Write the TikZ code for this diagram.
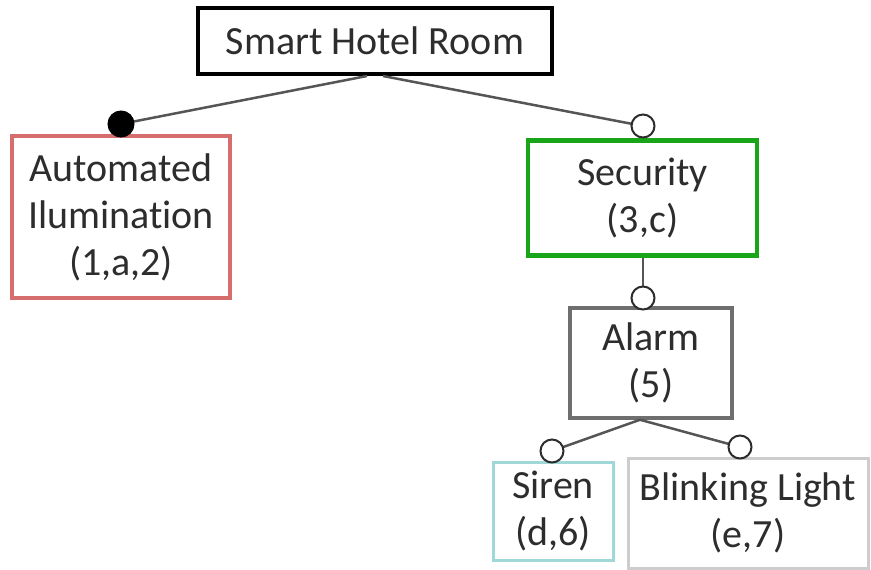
\documentclass[tikz,border=0pt]{standalone}
\usepackage{fontspec}
\setmainfont{Carlito}[Ligatures={NoCommon}]
\definecolor{inkgray}{RGB}{45,45,45}
\definecolor{linkgray}{RGB}{85,85,85}
\definecolor{featred}{RGB}{215,110,110}
\definecolor{featgreen}{RGB}{25,165,25}
\definecolor{featgray}{RGB}{110,110,110}
\definecolor{featteal}{RGB}{160,215,215}
\definecolor{featlight}{RGB}{205,205,205}
\begin{document}
\begin{tikzpicture}[x=1pt,y=-1pt,
  feature/.style={draw, fill=white, inner sep=0pt, align=center, text=inkgray,
    font=\fontsize{40}{47}\selectfont},
  link/.style={draw=linkgray, line width=2.5pt},
  mandatory/.style={circle, fill=black, draw=black, line width=1pt, minimum size=26pt, inner sep=0pt},
  optional/.style={circle, fill=white, draw=inkgray, line width=2pt, minimum size=23pt, inner sep=0pt}]
\useasboundingbox (0,0) rectangle (871,570);

% feature boxes
\node[feature, draw=black, line width=4pt, minimum width=354pt, minimum height=66pt] (root) at (375,41) {Smart Hotel Room};
\node[feature, draw=featred, line width=3.5pt, minimum width=218pt, minimum height=162pt] (auto) at (121,217) {Automated\\Ilumination\\(1,a,2)};
\node[feature, draw=featgreen, line width=4.5pt, minimum width=229pt, minimum height=115pt] (sec) at (642.5,198) {Security\\(3,c)};
\node[feature, draw=featgray, line width=3.5pt, minimum width=162pt, minimum height=110pt] (alarm) at (651,363) {Alarm\\(5)};
\node[feature, draw=featteal, line width=3pt, minimum width=120pt, minimum height=98pt] (siren) at (553,511) {Siren\\(d,6)};
\node[feature, draw=featlight, line width=3pt, minimum width=240pt, minimum height=110pt] (blink) at (748,513) {Blinking Light\\(e,7)};

% connector end points
\coordinate (mauto) at (121,124);
\coordinate (osec) at (643,126);
\coordinate (oalarm) at (643,298);
\coordinate (osiren) at (552,451);
\coordinate (oblink) at (740,447);

% connectors
\draw[link] ([xshift=-8pt]root.south) -- (mauto);
\draw[link] ([xshift=8pt]root.south) -- (osec);
\draw[link] (sec.south -| oalarm) -- (oalarm);
\draw[link] ([xshift=-11pt]alarm.south) -- (osiren);
\draw[link] ([xshift=-11pt]alarm.south) -- (oblink);

% mandatory / optional markers over the connector ends
\node[mandatory] (mark1) at (mauto) {};
\node[optional] (mark2) at (osec) {};
\node[optional] (mark3) at (oalarm) {};
\node[optional] (mark4) at (osiren) {};
\node[optional] (mark5) at (oblink) {};
\end{tikzpicture}
\end{document}
